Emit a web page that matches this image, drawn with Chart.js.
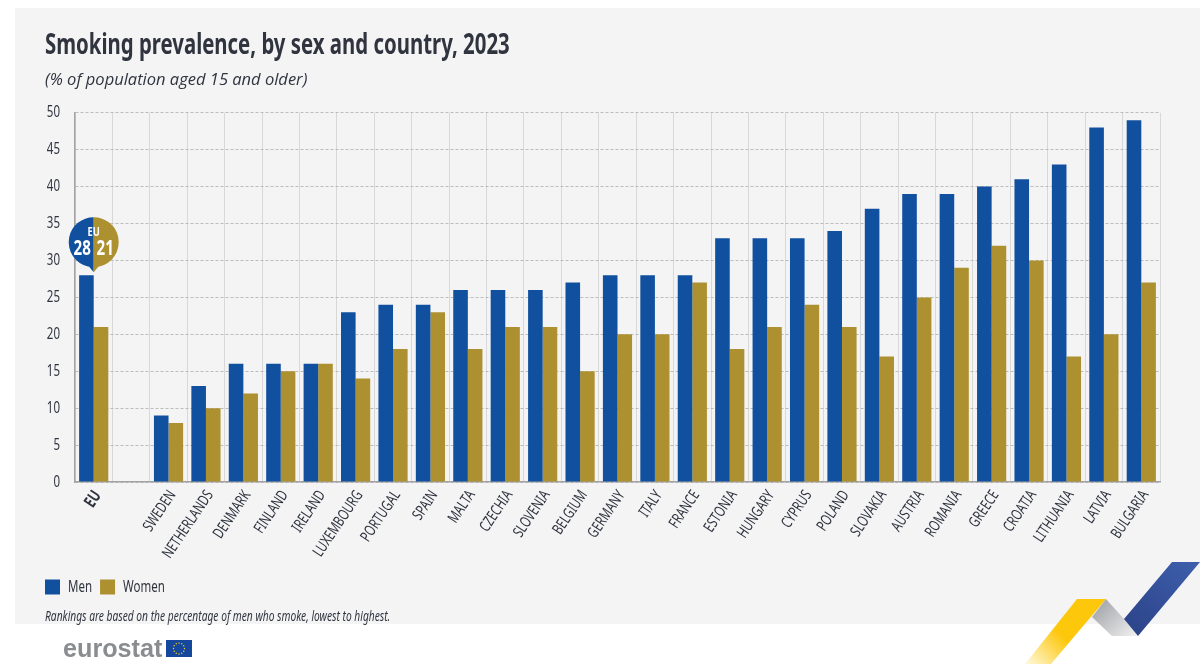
<!DOCTYPE html>
<html>
<head>
<meta charset="utf-8">
<title>Smoking prevalence</title>
<script src="https://cdn.jsdelivr.net/npm/chart.js@4"></script>
<style>
    html, body { margin: 0; padding: 0; background: #fff; }
    #wrap { width: 1200px; height: 664px; }
</style>
</head>
<body>
<div id="wrap"><canvas id="smokingChart" width="1200" height="664"></canvas></div>
<script>
const countries = ['EU', '', 'SWEDEN', 'NETHERLANDS', 'DENMARK', 'FINLAND', 'IRELAND', 'LUXEMBOURG', 'PORTUGAL', 'SPAIN', 'MALTA', 'CZECHIA', 'SLOVENIA', 'BELGIUM', 'GERMANY', 'ITALY', 'FRANCE', 'ESTONIA', 'HUNGARY', 'CYPRUS', 'POLAND', 'SLOVAKIA', 'AUSTRIA', 'ROMANIA', 'GREECE', 'CROATIA', 'LITHUANIA', 'LATVIA', 'BULGARIA'];
const men = [28, null, 9, 13, 16, 16, 16, 23, 24, 24, 26, 26, 26, 27, 28, 28, 28, 33, 33, 33, 34, 37, 39, 39, 40, 41, 43, 48, 49];
const women = [21, null, 8, 10, 12, 15, 16, 14, 18, 23, 18, 21, 21, 15, 20, 20, 27, 18, 21, 24, 21, 17, 25, 29, 32, 30, 17, 20, 27];

const NARROW = '"Noto Sans", sans-serif';
const INK = '#30343f';
const BLUE = '#11509f';
const GOLD = '#ad9030';
const SQUEEZE = 0.72;

// no condensed font is installed, so squeeze Noto Sans text horizontally
const ctx = document.getElementById('smokingChart').getContext('2d');
const rawFill = ctx.fillText.bind(ctx);
const rawMeasure = ctx.measureText.bind(ctx);
const isNarrow = () => ctx.font.includes('Noto Sans');
ctx.fillText = (text, x, y) => {
    if (!isNarrow()) return rawFill(text, x, y);
    ctx.save();
    ctx.translate(x, y);
    ctx.scale(SQUEEZE, 1);
    rawFill(text, 0, 0);
    ctx.restore();
};
ctx.measureText = (text) => {
    const m = rawMeasure(text);
    return isNarrow() ? { width: m.width * SQUEEZE } : m;
};

function poly(c, pts, fill) {
    c.beginPath();
    pts.forEach((p, i) => i ? c.lineTo(p[0], p[1]) : c.moveTo(p[0], p[1]));
    c.closePath();
    c.fillStyle = fill;
    c.fill();
}

// grey panel, ribbon and logo sit behind / around the chart
const decorations = {
    id: 'decorations',
    afterLayout(chart) {
        chart.legend.left -= 8;
    },
    beforeDraw(chart) {
        const c = chart.ctx;
        c.save();
        c.fillStyle = '#fff';
        c.fillRect(0, 0, 1200, 664);
        c.fillStyle = '#f4f4f5';
        c.fillRect(15, 8, 1185, 616);

        let g = c.createLinearGradient(1100, 600, 1030, 664);
        g.addColorStop(0, '#fdc70c');
        g.addColorStop(0.55, '#fdc70c');
        g.addColorStop(1, '#fff6d0');
        poly(c, [[1077, 599], [1106, 599], [1051, 664], [1025, 664]], g);

        g = c.createLinearGradient(1098, 608, 1130, 640);
        g.addColorStop(0, '#a9abae');
        g.addColorStop(1, '#eeeeef');
        poly(c, [[1106, 599], [1092, 617], [1112, 636], [1138, 636], [1124, 619]], g);

        g = c.createLinearGradient(1190, 562, 1125, 636);
        g.addColorStop(0, '#3d5daa');
        g.addColorStop(1, '#2b4287');
        poly(c, [[1172, 562], [1200, 562], [1138, 636], [1124, 619]], g);

        c.fillStyle = '#8a8d90';
        c.font = 'bold 25.2px "Liberation Sans", sans-serif';
        c.textBaseline = 'alphabetic';
        c.fillText('eurostat', 63, 657);
        c.fillStyle = '#15479c';
        c.fillRect(166, 640, 26, 17);
        c.fillStyle = '#f5d327';
        for (let i = 0; i < 12; i++) {
            const a = i * Math.PI / 6;
            c.beginPath();
            c.arc(179 + 5.5 * Math.cos(a), 648.5 + 5.5 * Math.sin(a), 0.7, 0, 2 * Math.PI);
            c.fill();
        }
        c.restore();
    },
    afterDraw(chart) {
        const c = chart.ctx;
        c.save();
        c.fillStyle = INK;
        c.font = 'italic 14.2px ' + NARROW;
        c.fillText('Rankings are based on the percentage of men who smoke, lowest to highest.', 45, 617);

        // EU pin sits on top of the EU bars
        const x = chart.scales.x.getPixelForValue(0);
        const tip = chart.scales.y.getPixelForValue(men[0]) - 3;
        const r = 25;
        const cy = tip - 30;
        c.beginPath();
        c.moveTo(x, tip);
        c.lineTo(x - 5, cy + r - 1);
        c.arc(x, cy, r, Math.PI / 2 + 0.2, 3 * Math.PI / 2);
        c.closePath();
        c.fillStyle = BLUE;
        c.fill();
        c.beginPath();
        c.moveTo(x, tip);
        c.lineTo(x + 5, cy + r - 1);
        c.arc(x, cy, r, Math.PI / 2 - 0.2, -Math.PI / 2, true);
        c.closePath();
        c.fillStyle = GOLD;
        c.fill();

        c.fillStyle = '#fff';
        c.textAlign = 'center';
        c.textBaseline = 'middle';
        c.font = 'bold 13px ' + NARROW;
        c.fillText('EU', x, cy - 10);
        c.font = 'bold 21px ' + NARROW;
        c.fillText(String(men[0]), x - 11.5, cy + 7);
        c.fillText(String(women[0]), x + 11.5, cy + 7);
        c.restore();
    }
};

new Chart(ctx, {
    type: 'bar',
    data: {
        labels: countries,
        datasets: [
            { label: 'Men', data: men, backgroundColor: BLUE },
            { label: 'Women', data: women, backgroundColor: GOLD }
        ]
    },
    plugins: [decorations],
    options: {
        responsive: false,
        animation: false,
        events: [],
        devicePixelRatio: 1,
        layout: { padding: { left: 45, right: 40, top: 29, bottom: 59 } },
        datasets: { bar: { categoryPercentage: 0.78, barPercentage: 1 } },
        plugins: {
            tooltip: { enabled: false },
            title: {
                display: true,
                text: 'Smoking prevalence, by sex and country, 2023',
                align: 'start',
                color: INK,
                font: { family: NARROW, size: 28.3, weight: 'bold' },
                padding: { top: 0, bottom: 7 }
            },
            subtitle: {
                display: true,
                text: '(% of population aged 15 and older)',
                align: 'start',
                color: INK,
                font: { family: '"Open Sans", sans-serif', size: 16.5, style: 'italic' },
                padding: { top: 0, bottom: 23 }
            },
            legend: {
                position: 'bottom',
                align: 'start',
                labels: {
                    boxWidth: 15,
                    boxHeight: 15,
                    padding: 8,
                    color: INK,
                    font: { family: NARROW, size: 16 }
                }
            }
        },
        scales: {
            x: {
                afterFit(axis) { axis.height = 89; },
                border: { color: '#a3a3a3', width: 1.5 },
                grid: { color: '#d8d8d8', lineWidth: 1, drawTicks: false, offset: true },
                ticks: {
                    autoSkip: false,
                    minRotation: 56,
                    maxRotation: 56,
                    padding: 5,
                    labelOffset: 4,
                    color: INK,
                    font: c => ({
                        family: NARROW,
                        size: c.index === 0 ? 17 : 15.5,
                        weight: c.index === 0 ? 'bold' : 'normal'
                    })
                }
            },
            y: {
                min: 0,
                max: 50,
                afterFit(axis) { axis.width = 30; },
                border: { color: '#a3a3a3', width: 1.5, dash: [3, 2] },
                grid: { color: '#bcbcbc', lineWidth: 1, drawTicks: false },
                ticks: {
                    stepSize: 5,
                    padding: 15,
                    color: INK,
                    font: { family: NARROW, size: 16 }
                }
            }
        }
    }
});
</script>
</body>
</html>
